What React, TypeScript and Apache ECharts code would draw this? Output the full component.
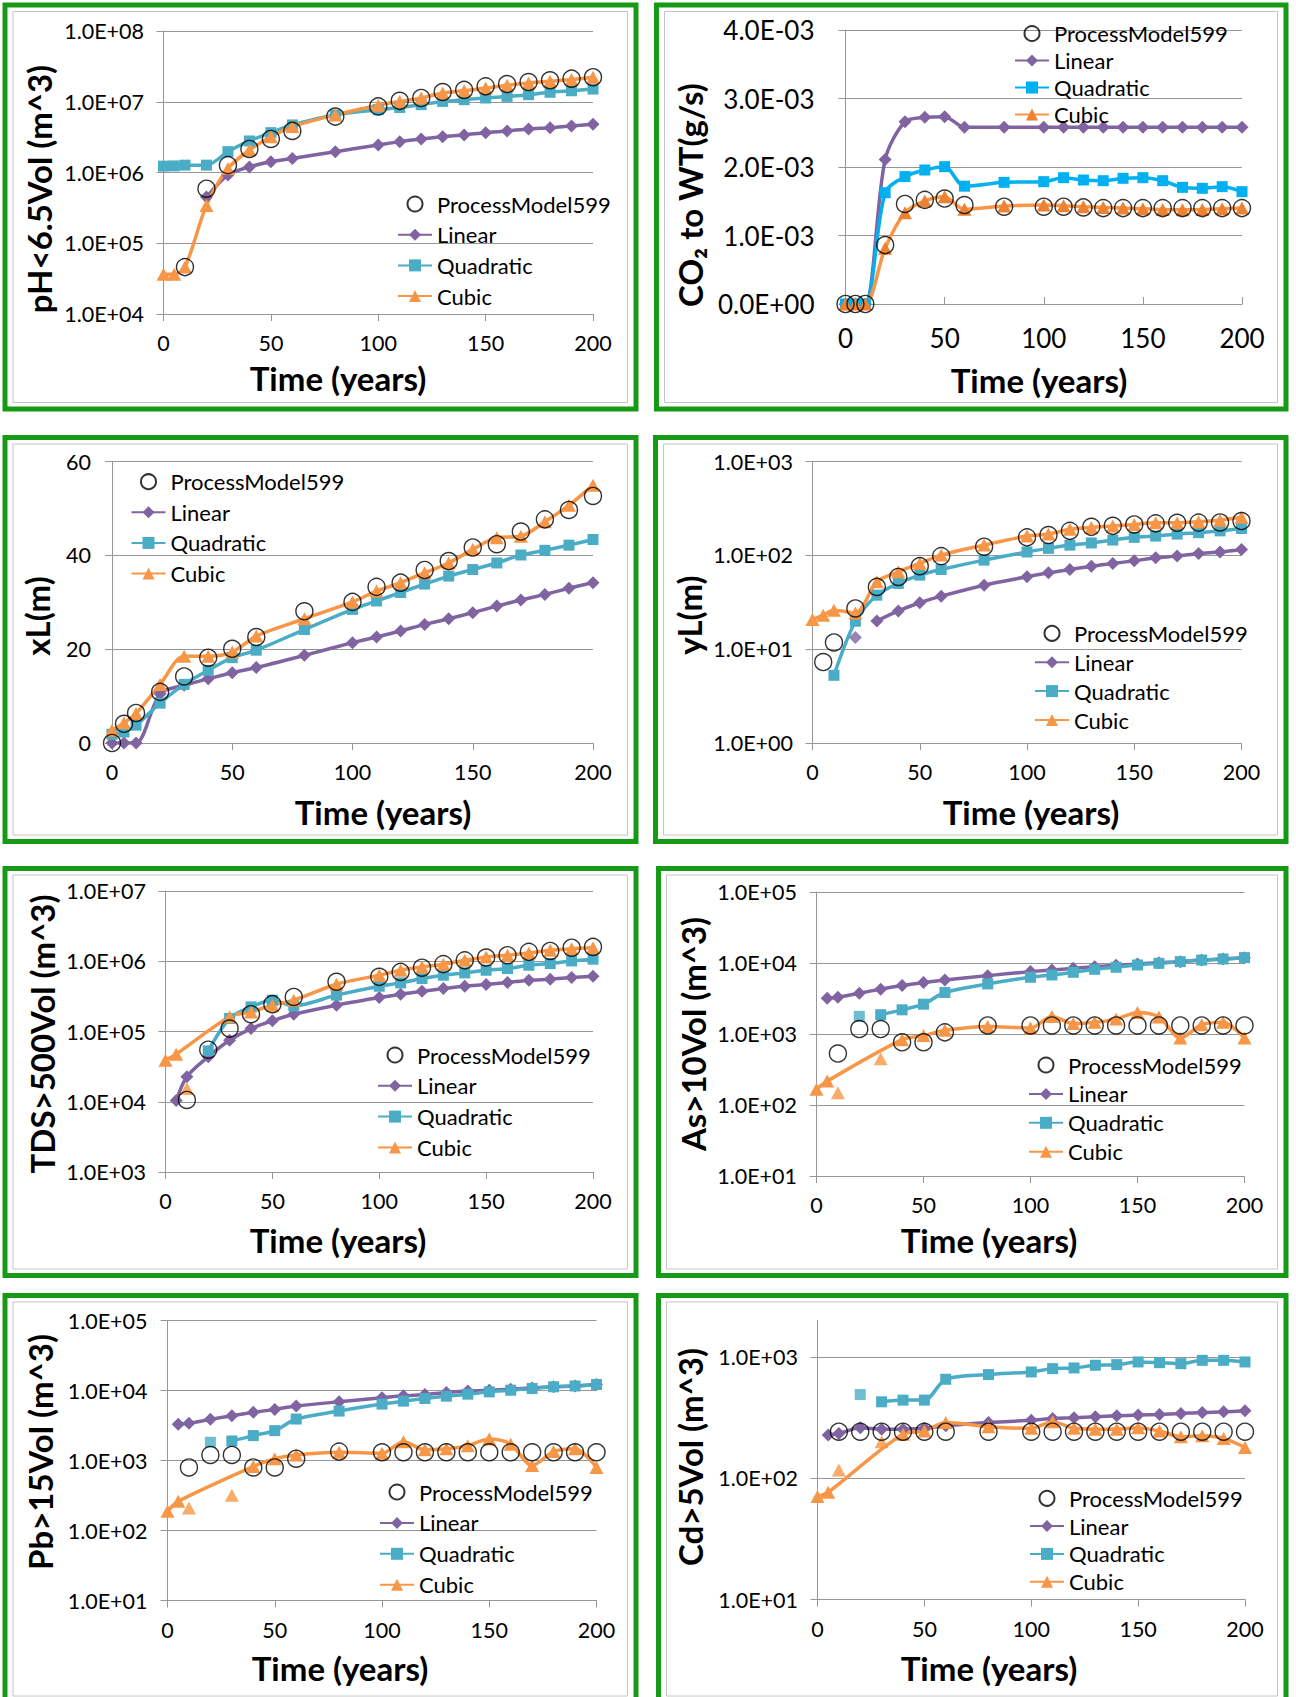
import React, { useEffect, useRef } from "react";
import * as echarts from "echarts";

// ---------- data ----------
const TIME = [0, 5, 10, 20, 30, 40, 50, 60, 80, 100, 110, 120, 130, 140, 150, 160, 170, 180, 190, 200];

// Panel 1: pH<6.5Vol (m^3)
const PH_PROCESS = [null, null, 4.6e4, 5.9e5, 1.27e6, 2.15e6, 2.98e6, 3.87e6, 6.17e6, 8.6e6, 1.03e7, 1.13e7, 1.37e7, 1.47e7, 1.65e7, 1.78e7, 1.9e7, 2.01e7, 2.12e7, 2.22e7];
const PH_LINEAR = [null, null, null, 4.5e5, 9.2e5, 1.2e6, 1.42e6, 1.58e6, 1.97e6, 2.45e6, 2.73e6, 2.98e6, 3.2e6, 3.4e6, 3.66e6, 3.87e6, 4.13e6, 4.3e6, 4.56e6, 4.8e6];
const PH_QUAD = [1.23e6, 1.24e6, 1.27e6, 1.27e6, 1.97e6, 2.79e6, 3.66e6, 4.7e6, 6.5e6, 7.7e6, 8.3e6, 9.1e6, 1.01e7, 1.07e7, 1.13e7, 1.19e7, 1.26e7, 1.36e7, 1.43e7, 1.51e7];
const PH_CUBIC = [3.66e4, 3.66e4, 4.6e4, 3.43e5, 1.14e6, 2.08e6, 3.2e6, 4.46e6, 6.5e6, 8.9e6, 1.01e7, 1.13e7, 1.33e7, 1.43e7, 1.56e7, 1.71e7, 1.84e7, 1.95e7, 2.06e7, 2.22e7];

// Panel 2: CO2 to WT (g/s)
const CO2_PROCESS = [0, 0, 0, 0.00086, 0.00146, 0.00152, 0.00154, 0.001445, 0.00142, 0.00142, 0.00142, 0.00141, 0.0014, 0.0014, 0.0014, 0.0014, 0.0014, 0.0014, 0.0014, 0.0014];
const CO2_LINEAR = [0, 0, 0, 0.00211, 0.00266, 0.002725, 0.002735, 0.00258, 0.00258, 0.00258, 0.00258, 0.00258, 0.00258, 0.00258, 0.00258, 0.00258, 0.00258, 0.00258, 0.00258, 0.00258];
const CO2_QUAD = [0, 0, 0, 0.001625, 0.00186, 0.001956, 0.002005, 0.00172, 0.001776, 0.001786, 0.001844, 0.00181, 0.0018, 0.001835, 0.001844, 0.0018, 0.001703, 0.001689, 0.001713, 0.00164];
const CO2_CUBIC = [0, 0, 0, 0.000813, 0.001333, 0.001504, 0.001567, 0.001382, 0.00143, 0.001445, 0.001435, 0.00142, 0.00141, 0.0014, 0.00139, 0.00138, 0.001377, 0.00138, 0.00139, 0.0014];

// Panel 3: xL (m)
const XL_PROCESS = [0, 4.1, 6.4, 10.9, 14.2, 18.2, 20.1, 22.6, 28.1, 30.1, 33.3, 34.2, 36.9, 38.8, 41.7, 42.4, 45.1, 47.7, 49.7, 52.7];
const XL_LINEAR = [0, 0, 0, 10.5, 12.3, 13.7, 15.0, 16.1, 18.7, 21.4, 22.6, 23.9, 25.3, 26.5, 27.8, 29.2, 30.5, 31.7, 33.0, 34.2];
const XL_QUAD = [1.85, 2.35, 3.8, 8.5, 12.5, 15.5, 18.2, 19.8, 24.2, 28.5, 30.3, 32.1, 33.9, 35.6, 37.0, 38.4, 40.1, 41.1, 42.2, 43.4];
const XL_CUBIC = [2.7, 4.3, 6.3, 12.5, 18.5, 18.5, 19.4, 22.8, 26.5, 30.1, 32.4, 34.2, 36.3, 38.4, 41.3, 43.8, 44.1, 47.2, 50.7, 55.0];

// Panel 4: yL (m)
const YL_PROCESS = [null, 7.3, 11.8, 27.2, 46.2, 59, 76.9, 98.4, 124, 156, 165, 183, 202, 207, 214, 220, 223, 224, 225, 233];
const YL_LINEAR = [null, null, null, 13.3, 20, 25.6, 31.3, 36.8, 48.2, 59.2, 65.3, 70.9, 76.9, 82.2, 87.8, 94.4, 98.4, 105, 109, 116];
const YL_QUAD = [null, null, 5.27, 19.9, 37.7, 50.3, 61.7, 70.9, 89.2, 109, 119, 129, 136, 146, 156, 161, 169, 175, 183, 194];
const YL_CUBIC = [20.8, 23.1, 26.1, 24.4, 52.4, 67, 82.2, 101, 129, 161, 169, 190, 199, 206, 214, 223, 223, 229, 238, 255];

// Panel 5: TDS>500Vol (m^3)
const TDS_PROCESS = [null, null, 1.06e4, 5.5e4, 1.1e5, 1.76e5, 2.45e5, 3.1e5, 5.1e5, 6.0e5, 7.05e5, 8.1e5, 9.1e5, 1.03e6, 1.13e6, 1.22e6, 1.36e6, 1.4e6, 1.56e6, 1.6e6];
const TDS_LINEAR = [null, 1.04e4, 2.27e4, 4.37e4, 7.5e4, 1.1e5, 1.42e5, 1.76e5, 2.37e5, 3.04e5, 3.4e5, 3.74e5, 4.08e5, 4.41e5, 4.66e5, 4.97e5, 5.37e5, 5.55e5, 5.86e5, 6.12e5];
const TDS_QUAD = [null, null, null, 5.3e4, 1.53e5, 2.24e5, 2.79e5, 2.32e5, 3.29e5, 4.41e5, 4.92e5, 5.67e5, 6.33e5, 6.83e5, 7.45e5, 7.87e5, 8.77e5, 9.27e5, 1.01e6, 1.07e6];
const TDS_CUBIC = [3.9e4, 4.76e4, 1.55e4, null, 1.62e5, 1.9e5, 2.37e5, 2.79e5, 4.71e5, 6.33e5, 7.45e5, 8.3e5, 9.05e5, 1.03e6, 1.15e6, 1.22e6, 1.31e6, 1.43e6, 1.51e6, 1.56e6];

// Panel 6: As>10Vol (m^3)
const AS_PROCESS = [null, null, 530, 1175, 1175, 764, 764, 1055, 1320, 1320, 1320, 1320, 1320, 1320, 1320, 1320, 1320, 1320, 1320, 1320];
const AS_LINEAR = [null, 3200, 3300, 3760, 4280, 4810, 5300, 5780, 6640, 7560, 7980, 8420, 8890, 9280, 9690, 10100, 10450, 11000, 11400, 11900];
const AS_QUAD = [null, null, null, 1770, 1870, 2190, 2630, 3840, 5080, 6300, 6790, 7400, 8150, 8700, 9370, 9890, 10450, 11000, 11400, 11900];
const AS_CUBIC = [166, 217, 149, null, 447, 833, 949, 1130, 1280, 1210, 1770, 1400, 1460, 1620, 2010, 1730, 879, 1350, 1460, 879];

// Panel 7: Pb>15Vol (m^3)
const PB_PROCESS = [null, null, 795, 1200, 1200, 795, 795, 1060, 1340, 1310, 1310, 1310, 1310, 1310, 1310, 1310, 1310, 1310, 1310, 1310];
const PB_LINEAR = [null, 3290, 3400, 3870, 4360, 4870, 5370, 5990, 6900, 7860, 8400, 8770, 9370, 9800, 10100, 10450, 10900, 11300, 11600, 12200];
const PB_QUAD = [null, null, null, 1820, 1900, 2270, 2670, 3910, 5080, 6400, 7050, 7690, 8300, 8870, 9570, 10100, 10700, 11300, 11600, 12200];
const PB_CUBIC = [188, 261, 210, null, 318, 822, 1060, 1200, 1310, 1270, 1860, 1420, 1470, 1630, 2030, 1710, 849, 1340, 1470, 795];

// Panel 8: Cd>5Vol (m^3)
const CD_PROCESS = [null, null, 242, 242, 242, 242, 242, 242, 242, 242, 242, 242, 242, 242, 242, 242, 242, 242, 242, 242];
const CD_LINEAR = [null, 227, 234, 261, 254, 254, 258, 271, 288, 301, 311, 315, 321, 327, 332, 336, 342, 349, 353, 360];
const CD_QUAD = [null, null, null, 490, 427, 441, 441, 655, 716, 753, 802, 812, 855, 865, 910, 898, 881, 939, 939, 910];
const CD_CUBIC = [70.7, 76.7, 117, null, 200, 231, 245, 288, 266, 258, 293, 258, 254, 254, 261, 245, 220, 224, 213, 179];

const SERIES_NAMES = ["ProcessModel599", "Linear", "Quadratic", "Cubic"];
const X_TITLE = "Time (years)";

// ---------- styling / layout ----------
const FONT = "Lato, 'Noto Sans', sans-serif";
const GREEN = "#169A16";
const GRAY = "#969696";
const PURPLE = "#8064A2";
const AQUA = "#4BACC6";
const BRIGHT_BLUE = "#00B0F0";
const ORANGE = "#F79646";
const DARK_ORANGE = "#EC8232";

type Panel = {
  box: number[]; plot: number[]; yTitle: string; yTitlePos: number[]; xTitlePos: number[];
  legend: number[]; fs: number; ym: number; tickInside: boolean;
  yType: "log" | "value"; yMin: number; yMax: number; yInterval?: number; sci: boolean; hideMax?: boolean;
  process: (number | null)[]; linear: (number | null)[]; quad: (number | null)[]; cubic: (number | null)[];
  offLinear: number[]; offQuad: number[]; offCubic: number[]; quadColor: string; cubicMarker: string;
};

const PANELS: Panel[] = [
  { box: [2.5, 2.5, 636, 409], plot: [163.5, 31, 593, 314], yTitle: "pH<6.5Vol (m^3)", yTitlePos: [39, 189], xTitlePos: [338, 378], legend: [397, 204, 30.7], fs: 21.5, ym: 19.5, tickInside: false, yType: "log", yMin: 1e4, yMax: 1e8, sci: true, process: PH_PROCESS, linear: PH_LINEAR, quad: PH_QUAD, cubic: PH_CUBIC, offLinear: [], offQuad: [], offCubic: [], quadColor: AQUA, cubicMarker: ORANGE },
  { box: [654, 2.5, 634.5, 409], plot: [845.5, 30, 1242, 304], yTitle: "CO\u2082 to WT(g/s)", yTitlePos: [690, 195], xTitlePos: [1039, 380], legend: [1014, 33.5, 27], fs: 26, ym: 31, tickInside: true, yType: "value", yMin: 0, yMax: 0.004, yInterval: 0.001, sci: true, process: CO2_PROCESS, linear: CO2_LINEAR, quad: CO2_QUAD, cubic: CO2_CUBIC, offLinear: [], offQuad: [], offCubic: [], quadColor: BRIGHT_BLUE, cubicMarker: DARK_ORANGE },
  { box: [2.5, 435, 636, 409], plot: [112, 461.7, 593, 743], yTitle: "xL(m)", yTitlePos: [37, 616], xTitlePos: [383, 812], legend: [130.5, 481.7, 30.6], fs: 21.5, ym: 21, tickInside: false, yType: "value", yMin: 0, yMax: 60, yInterval: 20, sci: false, process: XL_PROCESS, linear: XL_LINEAR, quad: XL_QUAD, cubic: XL_CUBIC, offLinear: [], offQuad: [], offCubic: [], quadColor: AQUA, cubicMarker: ORANGE },
  { box: [653, 435, 635.5, 409], plot: [812.5, 461.7, 1241.5, 743], yTitle: "yL(m)", yTitlePos: [689, 615], xTitlePos: [1031, 812], legend: [1034, 633.3, 28.9], fs: 21.5, ym: 19.5, tickInside: false, yType: "log", yMin: 1, yMax: 1000, sci: true, process: YL_PROCESS, linear: YL_LINEAR, quad: YL_QUAD, cubic: YL_CUBIC, offLinear: [3], offQuad: [], offCubic: [], quadColor: AQUA, cubicMarker: ORANGE },
  { box: [2.5, 866, 636, 412], plot: [165.5, 891, 593, 1172], yTitle: "TDS>500Vol (m^3)", yTitlePos: [42, 1034], xTitlePos: [338, 1240], legend: [377, 1055, 30.8], fs: 21.5, ym: 19.5, tickInside: false, yType: "log", yMin: 1e3, yMax: 1e7, sci: true, process: TDS_PROCESS, linear: TDS_LINEAR, quad: TDS_QUAD, cubic: TDS_CUBIC, offLinear: [], offQuad: [], offCubic: [2], quadColor: AQUA, cubicMarker: ORANGE },
  { box: [656, 866, 632.5, 412], plot: [816.5, 892, 1244.5, 1176], yTitle: "As>10Vol (m^3)", yTitlePos: [693, 1034], xTitlePos: [989, 1240], legend: [1028, 1065, 28.9], fs: 21.5, ym: 19.5, tickInside: false, yType: "log", yMin: 10, yMax: 1e5, sci: true, process: AS_PROCESS, linear: AS_LINEAR, quad: AS_QUAD, cubic: AS_CUBIC, offLinear: [], offQuad: [3], offCubic: [2, 4], quadColor: AQUA, cubicMarker: ORANGE },
  { box: [2.5, 1293, 636, 412], plot: [167.5, 1320.5, 596.5, 1600.5], yTitle: "Pb>15Vol (m^3)", yTitlePos: [40, 1452], xTitlePos: [340, 1668], legend: [379, 1492, 30.9], fs: 21.5, ym: 20, tickInside: false, yType: "log", yMin: 10, yMax: 1e5, sci: true, process: PB_PROCESS, linear: PB_LINEAR, quad: PB_QUAD, cubic: PB_CUBIC, offLinear: [], offQuad: [3], offCubic: [2, 4], quadColor: AQUA, cubicMarker: ORANGE },
  { box: [656, 1293, 632.5, 412], plot: [817.5, 1320.5, 1245, 1599.5], yTitle: "Cd>5Vol (m^3)", yTitlePos: [690, 1457], xTitlePos: [989, 1668], legend: [1029, 1498.3, 27.8], fs: 21.5, ym: 19.5, tickInside: false, yType: "log", yMin: 10, yMax: 2000, sci: true, hideMax: true, process: CD_PROCESS, linear: CD_LINEAR, quad: CD_QUAD, cubic: CD_CUBIC, offLinear: [], offQuad: [3], offCubic: [2, 4], quadColor: AQUA, cubicMarker: ORANGE },
];

// ---------- helpers ----------
function sciLabel(v: number): string {
  if (v === 0) return "0.0E+00";
  let e = Math.floor(Math.log10(Math.abs(v)) + 1e-9);
  let m = v / Math.pow(10, e);
  if (Math.abs(m) >= 9.95) { m /= 10; e += 1; }
  return m.toFixed(1) + "E" + (e < 0 ? "-" : "+") + String(Math.abs(e)).padStart(2, "0");
}
function logLabel(v: number): string {
  const l = Math.log10(v);
  if (Math.abs(l - Math.round(l)) > 1e-6) return "";
  return sciLabel(Math.pow(10, Math.round(l)));
}

function fitSeries(name: string, values: (number | null)[], off: number[], lineColor: string, markerColor: string, symbol: string, size: any, idx: number) {
  const pts = TIME.map((t, j) => ({ j, p: [t, values[j]] }));
  const linePts = pts.filter((o) => o.p[1] != null && off.indexOf(o.j) < 0).map((o) => o.p);
  const offPts = pts.filter((o) => o.p[1] != null && off.indexOf(o.j) >= 0).map((o) => o.p);
  const common = { name, symbol, symbolSize: size, xAxisIndex: idx, yAxisIndex: idx, itemStyle: { color: markerColor }, silent: true, z: 3 };
  const out: any[] = [{ ...common, type: "line", data: linePts, smooth: 0.3, showSymbol: true, showAllSymbol: true, lineStyle: { color: lineColor, width: 3.5 } }];
  if (offPts.length) out.push({ ...common, type: "scatter", data: offPts });
  return out;
}

function buildOption() {
  const grid: any[] = [];
  const xAxis: any[] = [];
  const yAxis: any[] = [];
  const series: any[] = [];
  const legend: any[] = [];
  const graphic: any[] = [];

  PANELS.forEach((p, i) => {
    const [l, t, r, b] = p.plot;
    grid.push({ left: l, top: t, width: r - l, height: b - t, containLabel: false, outerBoundsMode: "none" });
    xAxis.push({
      type: "value", gridIndex: i, min: 0, max: 200, interval: 50,
      axisLine: { show: true, onZero: false, lineStyle: { color: GRAY, width: 1 } },
      axisTick: { show: true, inside: p.tickInside, length: 7, lineStyle: { color: GRAY } },
      axisLabel: { fontFamily: FONT, fontSize: p.fs, color: "#000", margin: p.tickInside ? 21 : 18 },
      splitLine: { show: false },
    });
    const y: any = {
      type: p.yType, gridIndex: i, min: p.yMin, max: p.yMax,
      axisLine: { show: true, onZero: false, lineStyle: { color: GRAY, width: 1 } },
      axisTick: { show: true, inside: false, length: 7, lineStyle: { color: GRAY } },
      axisLabel: {
        fontFamily: FONT, fontSize: p.fs, color: "#000", margin: p.ym,
        formatter: p.yType === "log" ? logLabel : p.sci ? sciLabel : (v: number) => String(v),
        showMaxLabel: !p.hideMax,
      },
      splitLine: { show: true, showMaxLine: !p.hideMax, lineStyle: { color: GRAY, width: 1 } },
    };
    if (p.yType === "log") y.logBase = 10; else y.interval = p.yInterval;
    yAxis.push(y);

    series.push({
      name: SERIES_NAMES[0], type: "scatter", xAxisIndex: i, yAxisIndex: i, symbol: "circle", symbolSize: 17, silent: true, z: 5,
      itemStyle: { color: "rgba(0,0,0,0)", borderColor: "#000", borderWidth: 1.4 },
      data: TIME.map((tt, j) => [tt, p.process[j]]).filter((d) => d[1] != null),
    });
    series.push(...fitSeries(SERIES_NAMES[1], p.linear, p.offLinear, PURPLE, PURPLE, "diamond", 13, i));
    series.push(...fitSeries(SERIES_NAMES[2], p.quad, p.offQuad, p.quadColor, p.quadColor, "rect", 11, i));
    series.push(...fitSeries(SERIES_NAMES[3], p.cubic, p.offCubic, ORANGE, p.cubicMarker, "triangle", [14, 13], i));

    const [lx, ly, step] = p.legend;
    legend.push({
      orient: "vertical", left: lx, top: ly - 12, padding: 0, itemWidth: 34, itemHeight: 15, itemGap: step - 24,
      selectedMode: false,
      textStyle: { fontFamily: FONT, fontSize: 22, color: "#000", lineHeight: 24 },
      data: [
        { name: SERIES_NAMES[0] },
        { name: SERIES_NAMES[1], itemStyle: { color: PURPLE }, lineStyle: { color: PURPLE } },
        { name: SERIES_NAMES[2], itemStyle: { color: p.quadColor }, lineStyle: { color: p.quadColor } },
        { name: SERIES_NAMES[3], itemStyle: { color: p.cubicMarker }, lineStyle: { color: ORANGE } },
      ],
    });

    const [bx, by, bw, bh] = p.box;
    graphic.push({ type: "rect", silent: true, z: 0, shape: { x: bx + 2.5, y: by + 2.5, width: bw - 5, height: bh - 5 }, style: { fill: "none", stroke: GREEN, lineWidth: 5 } });
    graphic.push({ type: "rect", silent: true, z: 0, shape: { x: bx + 10.5, y: by + 9, width: bw - 21.5, height: bh - 18 }, style: { fill: "none", stroke: "#C4C4C4", lineWidth: 1 } });
    graphic.push({
      type: "text", silent: true, x: p.xTitlePos[0], y: p.xTitlePos[1],
      style: { text: X_TITLE, fontFamily: FONT, fontSize: 33, fontWeight: "bold", fill: "#000", textAlign: "center", textVerticalAlign: "middle" },
    });
    graphic.push({
      type: "text", silent: true, x: p.yTitlePos[0], y: p.yTitlePos[1], rotation: Math.PI / 2,
      style: { text: p.yTitle, fontFamily: FONT, fontSize: 33, fontWeight: "bold", fill: "#000", textAlign: "center", textVerticalAlign: "middle" },
    });
  });

  return {
    animation: false,
    backgroundColor: "#ffffff",
    textStyle: { fontFamily: FONT },
    grid, xAxis, yAxis, series, legend, graphic,
  };
}

export default function App() {
  const ref = useRef<HTMLDivElement>(null);
  useEffect(() => {
    const chart = echarts.init(ref.current as HTMLDivElement, null, { renderer: "svg" });
    chart.setOption(buildOption() as any);
    return () => chart.dispose();
  }, []);
  return <div ref={ref} style={{ position: "absolute", left: 0, top: 0, width: 1296, height: 1697, background: "#fff" }} />;
}
